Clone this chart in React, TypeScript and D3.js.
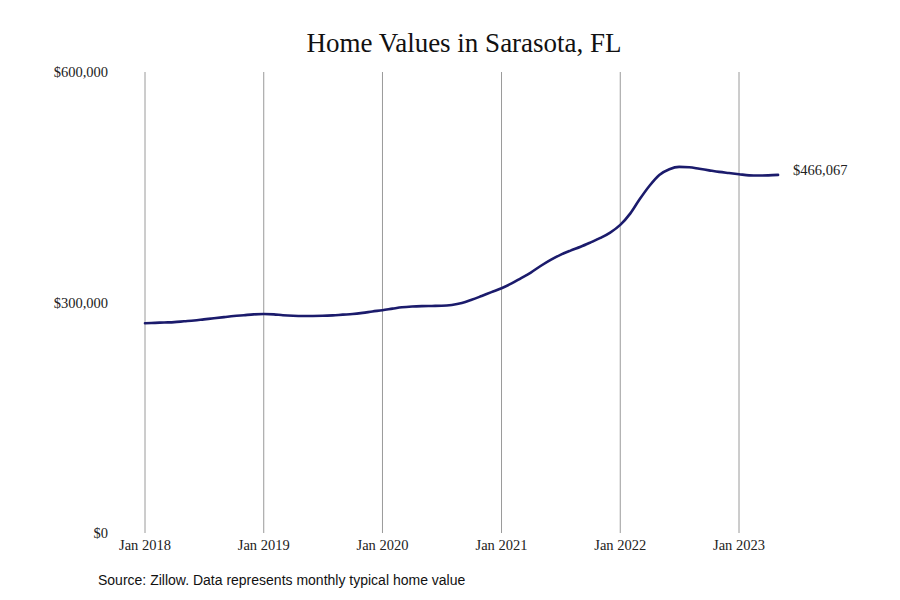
import React from 'react';
import * as d3 from 'd3';

// Zillow typical home value, Sarasota FL, monthly from Jan 2018 to May 2023
const startMonth = new Date(2018, 0, 1);
const homeValues = [
  273000, 273500, 274000, 274500, 275500, 276500, 278000, 279500, 281000, 282500, 283500, 284500,
  285000, 284500, 283500, 282800, 282500, 282500, 282700, 283300, 284200, 285000, 286500, 288300,
  290000, 292000, 293800, 294800, 295300, 295500, 295700, 296800, 299300, 303500, 308500, 313500,
  318500, 324800, 331500, 339000, 347500, 355500, 362000, 367500, 372500, 378000, 384000, 391000,
  401000, 416000, 434000, 452000, 466000, 473500, 476500, 476000, 474000, 472000, 470000, 468500,
  467000, 465500, 465200, 465500, 466067,
];
const yTicks = [0, 300000, 600000];
const xTickYears = [2018, 2019, 2020, 2021, 2022, 2023];

const title = 'Home Values in Sarasota, FL';
const source = 'Source: Zillow. Data represents monthly typical home value';

const W = 900;
const H = 600;

export default function App() {
  const data = homeValues.map((v, i) => ({ date: d3.timeMonth.offset(startMonth, i), value: v }));

  const x = d3.scaleTime()
    .domain([new Date(2018, 0, 1), new Date(2023, 0, 1)])
    .range([145, 739]);

  const y = d3.scaleLinear()
    .domain([0, 600000])
    .range([533, 72]);

  const line = d3.line<{ date: Date; value: number }>()
    .x(d => x(d.date))
    .y(d => y(d.value))
    .curve(d3.curveMonotoneX);

  const last = data[data.length - 1];
  const fmt = (v: number) => '$' + d3.format(',')(v);
  const serif = '"Liberation Serif", "DejaVu Serif", serif';

  return (
    <div style={{ position: 'fixed', left: 0, top: 0 }}>
      <svg width={W} height={H} style={{ display: 'block', background: '#fff' }}>
        <text x={464} y={52} textAnchor="middle" fontFamily={serif} fontSize={27} fill="#111">
          {title}
        </text>

        {/* vertical gridlines at each January */}
        {xTickYears.map(yr => (
          <line
            key={yr}
            x1={x(new Date(yr, 0, 1))}
            x2={x(new Date(yr, 0, 1))}
            y1={y(600000)}
            y2={y(0)}
            stroke="#9a9a9a"
            strokeWidth={1}
          />
        ))}

        {yTicks.map(t => (
          <text
            key={t}
            x={108}
            y={y(t)}
            dy="0.35em"
            textAnchor="end"
            fontFamily={serif}
            fontSize={14.5}
            fill="#222"
          >
            {fmt(t)}
          </text>
        ))}

        {xTickYears.map(yr => (
          <text
            key={yr}
            x={x(new Date(yr, 0, 1))}
            y={545}
            dy="0.35em"
            textAnchor="middle"
            fontFamily={serif}
            fontSize={14.5}
            fill="#222"
          >
            {`Jan ${yr}`}
          </text>
        ))}

        <path d={line(data) ?? ''} fill="none" stroke="#1b1b6c" strokeWidth={2.6} strokeLinecap="round" />

        <text
          x={x(last.date) + 15}
          y={y(last.value) - 5}
          dy="0.35em"
          fontFamily={serif}
          fontSize={14.5}
          fill="#222"
        >
          {fmt(last.value)}
        </text>

        <text x={98} y={585} fontFamily={'"Liberation Sans", Arial, sans-serif'} fontSize={14} fill="#111">
          {source}
        </text>
      </svg>
    </div>
  );
}
